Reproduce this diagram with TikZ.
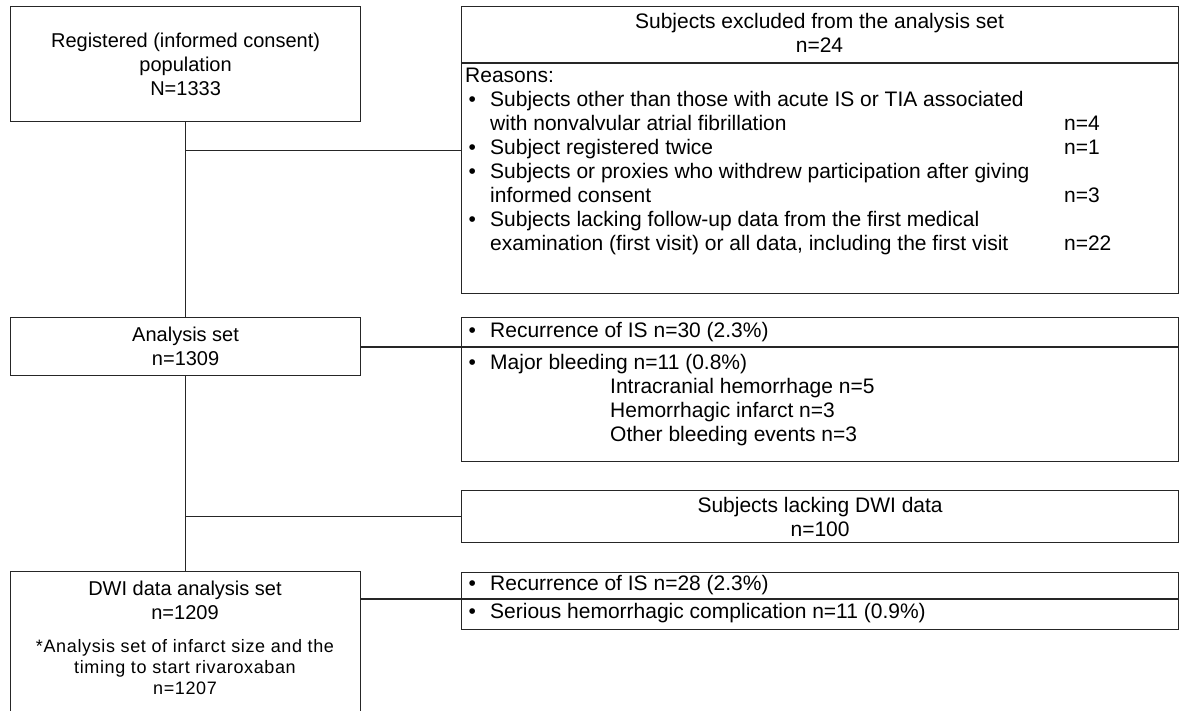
\documentclass[tikz,border=0pt]{standalone}
\usepackage{fontspec}
\setmainfont{Liberation Sans}
\usetikzlibrary{positioning,calc}
\definecolor{boxline}{HTML}{262626}
\newcommand\bodyfont{\fontsize{20}{24}\selectfont}
\newcommand\sidefont{\fontsize{21}{24}\selectfont}
\newcommand\notefont{\fontsize{18}{21}\selectfont\addfontfeatures{LetterSpace=3.5}}
\newcommand\bul{\makebox[25pt][l]{\hspace{3.5pt}\textbullet}}
\tikzset{
  block/.style      = {draw=boxline, line width=1.2pt, inner sep=0pt, anchor=north west},
  wire/.style       = {draw=boxline, line width=1.1pt},
  every node/.style = {font=\bodyfont},
  lbl/.style        = {font=\bodyfont, inner sep=0pt},
  side/.style       = {font=\sidefont, inner sep=0pt},
}
\begin{document}
\begin{tikzpicture}[x=1pt,y=-1pt]
  \useasboundingbox (0,0) rectangle (1184,711);
  % left column
  \node[block, minimum width=350pt, minimum height=115pt, align=center] (reg) at (10,6)
    {Registered (informed consent)\\population\\N=1333};
  \node[block, minimum width=350pt, minimum height=58pt, align=center] (ana) at (10,317)
    {Analysis set\\n=1309};
  \node[block, minimum width=350pt, minimum height=150pt] (dwi) at (10,571) {};
  \node[lbl, align=center] (dwitx) at (185,600.5) {DWI data analysis set\\n=1209};
  \node[lbl, align=center, font=\notefont] (dwinote) at (185,667)
    {*Analysis set of infarct size and the\\timing to start rivaroxaban\\n=1207};
  % exclusions
  \node[block, minimum width=717pt, minimum height=287pt] (excl) at (461,6) {};
  \coordinate (exdiv) at (461,63);
  \draw[wire] (exdiv) -- (exdiv -| excl.east);
  \node[side, align=center] (exhd) at (819.5,32.5) {Subjects excluded from the analysis set\\n=24};
  \node[side, anchor=north west] (exrs) at (465,66) {%
    \begin{tabular}{@{}l@{}p{574pt}@{}l@{}}
      \multicolumn{3}{@{}l@{}}{Reasons:}\\
      \bul & Subjects other than those with acute IS or TIA associated & \\
           & with nonvalvular atrial fibrillation & n=4\\
      \bul & Subject registered twice & n=1\\
      \bul & Subjects or proxies who withdrew participation after giving & \\
           & informed consent & n=3\\
      \bul & Subjects lacking follow-up data from the first medical & \\
           & examination (first visit) or all data, including the first visit & n=22
    \end{tabular}};
  % outcomes, analysis set
  \node[block, minimum width=717pt, minimum height=144pt] (out1) at (461,317) {};
  \coordinate (o1div) at (461,347);
  \draw[wire] (o1div) -- (o1div -| out1.east);
  \node[side, anchor=west] (o1is) at (465,332) {\bul Recurrence of IS n=30 (2.3\%)};
  \node[side, anchor=north west] (o1bl) at (465,352) {%
    \begin{tabular}{@{}l@{}l@{}}
      \bul & Major bleeding n=11 (0.8\%)\\
           & \hspace{120pt}Intracranial hemorrhage n=5\\
           & \hspace{120pt}Hemorrhagic infarct n=3\\
           & \hspace{120pt}Other bleeding events n=3
    \end{tabular}};
  \node[block, side, minimum width=717pt, minimum height=52pt, align=center] (lack) at (461,490)
    {Subjects lacking DWI data\\n=100};
  % outcomes, DWI set
  \node[block, minimum width=717pt, minimum height=57pt] (out2) at (461,572) {};
  \coordinate (o2div) at (461,599);
  \draw[wire] (o2div) -- (o2div -| out2.east);
  \node[side, anchor=west] (o2is) at (465,585.5) {\bul Recurrence of IS n=28 (2.3\%)};
  \node[side, anchor=west] (o2hc) at (465,613.5) {\bul Serious hemorrhagic complication n=11 (0.9\%)};
  % connectors
  \draw[wire] (reg.south) -- (ana.north);
  \draw[wire] (ana.south) -- (dwi.north);
  \draw[wire] (reg.south |- excl.west) -- (excl.west);
  \draw[wire] (o1div -| ana.east) -- (o1div);
  \draw[wire] (reg.south |- lack.west) -- (lack.west);
  \draw[wire] (o2div -| dwi.east) -- (o2div);
\end{tikzpicture}
\end{document}
